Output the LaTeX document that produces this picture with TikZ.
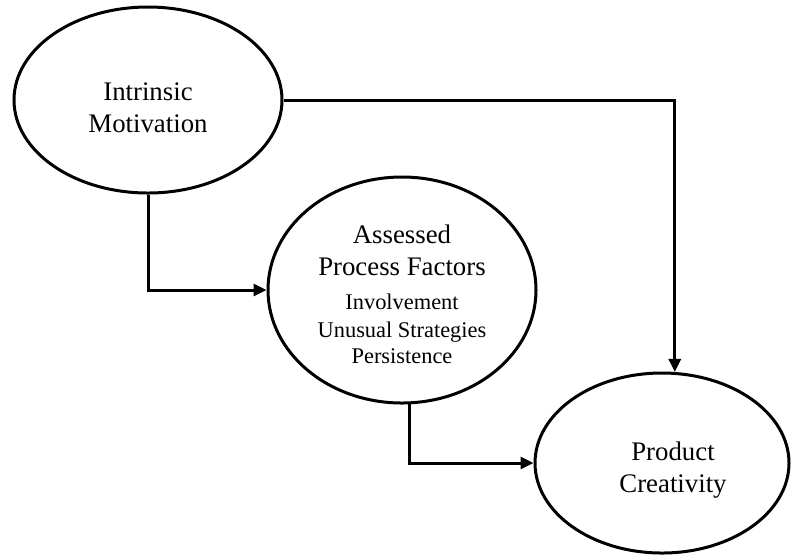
\documentclass[tikz,border=0pt]{standalone}
\usepackage{fontspec}
\setmainfont{Liberation Serif}
\usetikzlibrary{shapes.geometric,arrows.meta}

\tikzset{
  bubble/.style={draw=black, line width=1.5pt, ellipse, inner sep=0pt, align=center,
                 font=\fontsize{13.4}{16}\selectfont},
  link/.style={line width=1.5pt, -{Triangle[length=6.5pt,width=6pt]}}
}
\newcommand{\smalltxt}{\fontsize{11.2}{13.5}\selectfont}
\newcommand{\topgap}[1]{\rule{0pt}{#1}}

\begin{document}
\begin{tikzpicture}[x=0.5pt,y=-0.5pt]
            \useasboundingbox (0,0) rectangle (791,554);
            \node (im) at (148,100) [bubble, minimum width=268pt*0.5, minimum height=186pt*0.5] {\topgap{17pt}Intrinsic\\Motivation};
            \node (ap) at (402,290) [bubble, minimum width=268pt*0.5, minimum height=226pt*0.5]
                {\topgap{14pt}Assessed\\Process Factors\\[1pt]{\smalltxt Involvement}\\[-2pt]{\smalltxt Unusual Strategies}\\[-3pt]{\smalltxt Persistence}};
            \node (pc) at (662,463) [bubble, minimum width=254pt*0.5, minimum height=180pt*0.5]
                {\topgap{16pt}\hspace*{11pt}Product\\\hspace*{11pt}Creativity};
            \draw[link] (im.east) -| (pc.82);
            \draw[link] (im.south) |- (ap.west);
            \draw[link] (ap.-86) |- (pc.west);
        \end{tikzpicture}
\end{document}
